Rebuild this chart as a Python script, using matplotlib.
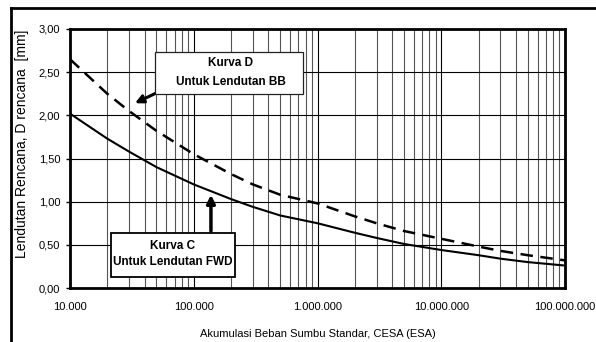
import numpy as np
import matplotlib.pyplot as plt
from matplotlib.lines import Line2D
from matplotlib.patches import Rectangle
from matplotlib.ticker import FixedLocator, NullFormatter

plt.rcParams['font.family'] = ['Liberation Sans', 'DejaVu Sans']

# values
cesa = [1e4, 2e4, 3e4, 5e4, 1e5, 2e5, 3e5, 5e5, 1e6, 2e6, 3e6, 5e6,
        1e7, 2e7, 3e7, 5e7, 1e8]
kurva_c = [2.02, 1.73, 1.58, 1.40, 1.20, 1.03, 0.94, 0.84, 0.75, 0.64,
           0.58, 0.51, 0.44, 0.38, 0.34, 0.30, 0.26]
kurva_d = [2.65, 2.25, 2.05, 1.82, 1.55, 1.32, 1.20, 1.08, 0.98, 0.83,
           0.75, 0.66, 0.57, 0.48, 0.43, 0.38, 0.32]
x_ticks = [1e4, 1e5, 1e6, 1e7, 1e8]
x_labels = ['10.000', '100.000', '1.000.000', '10.000.000', '100.000.000']
y_ticks = [0, 0.5, 1.0, 1.5, 2.0, 2.5, 3.0]
y_labels = ['0,00', '0,50', '1,00', '1,50', '2,00', '2,50', '3,00']

W, H = 596, 342
fig = plt.figure(figsize=(W / 100, H / 100), dpi=100)
ax = fig.add_axes([70 / W, 1 - 288 / H, 495 / W, 259 / H])

ax.plot(cesa, kurva_c, color='black', lw=1.5, zorder=3)
ax.plot(cesa, kurva_d, color='black', lw=1.8, dashes=(5, 3), zorder=3)

ax.set_xscale('log')
ax.set_xlim(1e4, 1e8)
ax.set_ylim(0, 3)
ax.set_xticks(x_ticks)
ax.set_xticklabels(x_labels, fontsize=8)
ax.xaxis.set_minor_locator(FixedLocator(
    [m * 10 ** e for e in range(4, 8) for m in range(2, 10)]))
ax.xaxis.set_minor_formatter(NullFormatter())
ax.set_yticks(y_ticks)
ax.set_yticklabels(y_labels, fontsize=8)
ax.tick_params(axis='x', which='both', length=0, pad=10)
ax.tick_params(axis='y', length=3, width=1, direction='out', pad=4)

ax.grid(which='major', color='black', lw=0.8)
ax.grid(which='minor', axis='x', color='#555555', lw=0.8)
for s in ax.spines.values():
    s.set_linewidth(2)

ax.set_xlabel('Akumulasi Beban Sumbu Standar, CESA (ESA)', fontsize=8, labelpad=12)
ax.set_ylabel('Lendutan Rencana, D rencana  [mm]', fontsize=10)
ax.yaxis.set_label_coords(-0.082, 0.556)

# Kurva D label box and arrow
fig.add_artist(Rectangle((155 / W, 1 - 94 / H), 148 / W, 42 / H, transform=fig.transFigure,
                         fc='white', ec='#222222', lw=0.9, zorder=5))
fig.text(231 / W, 1 - 63 / H, 'Kurva D', ha='center', va='center',
         fontsize=8.5, fontweight='bold', zorder=6)
fig.text(231 / W, 1 - 82 / H, 'Untuk Lendutan BB', ha='center', va='center',
         fontsize=8.5, fontweight='bold', zorder=6)
ax.annotate('', xy=(33500, 2.14), xytext=(53400, 2.28),
            arrowprops=dict(arrowstyle='-|>', color='black', lw=2.2, mutation_scale=12,
                            shrinkA=0, shrinkB=0), zorder=6)

# Kurva C label box and arrow
fig.add_artist(Rectangle((111 / W, 1 - 277 / H), 124 / W, 44 / H, transform=fig.transFigure,
                         fc='white', ec='black', lw=1.3, zorder=5))
fig.text(173 / W, 1 - 246 / H, 'Kurva C', ha='center', va='center',
         fontsize=8.5, fontweight='bold', zorder=6)
fig.text(173 / W, 1 - 262 / H, 'Untuk Lendutan FWD', ha='center', va='center',
         fontsize=8.5, fontweight='bold', zorder=6)
ax.annotate('', xy=(137700, 1.08), xytext=(137700, 0.66),
            arrowprops=dict(arrowstyle='-|>', color='black', lw=2.5, mutation_scale=12,
                            shrinkA=0, shrinkB=0), zorder=6)

# outer frame (left and top edges visible)
fig.add_artist(Line2D([11 / W, 11 / W], [0, 1 - 8 / H], color='black', lw=2,
                      transform=fig.transFigure))
fig.add_artist(Line2D([11 / W, 1], [1 - 8 / H, 1 - 8 / H], color='black', lw=2,
                      transform=fig.transFigure))

fig.savefig('out.png', dpi=100)
